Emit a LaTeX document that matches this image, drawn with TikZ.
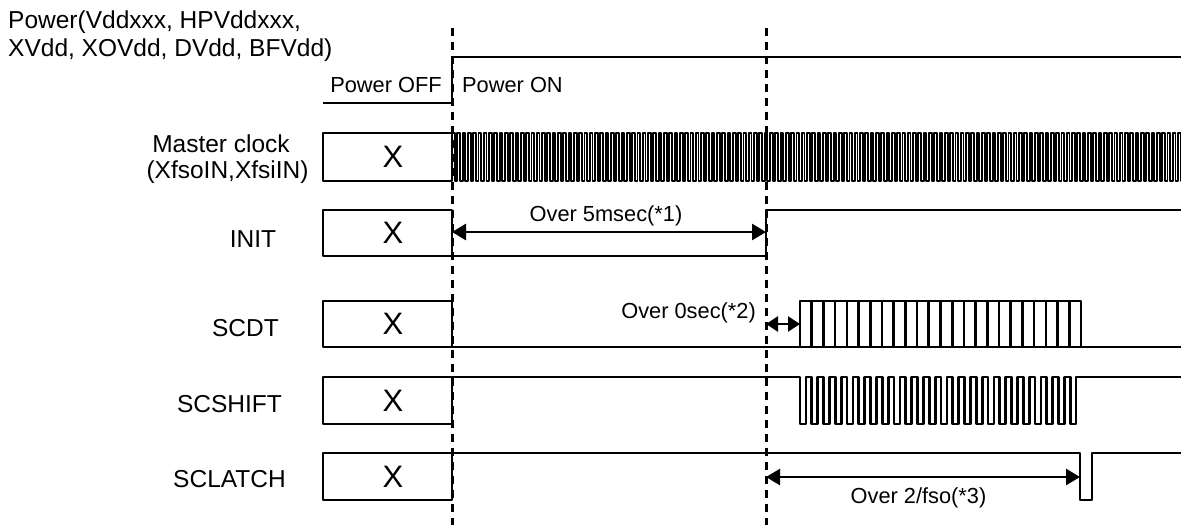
\documentclass[tikz,border=0pt]{standalone}
\usepackage{fontspec}
\setmainfont{Liberation Sans}
\usetikzlibrary{arrows.meta}
\begin{document}
\begin{tikzpicture}[x=1pt,y=-1pt,
  sig/.style={line width=2.6pt, line join=round},
  clk/.style={line width=1.9pt, line join=round},
  dashline/.style={line width=3pt, dash pattern=on 8pt off 6pt},
  dim/.style={line width=2.6pt, {Triangle[length=14pt,width=16pt]}-{Triangle[length=14pt,width=16pt]}},
  smalldim/.style={line width=2.6pt, {Triangle[length=12pt,width=15pt]}-{Triangle[length=12pt,width=15pt]}},
  namelbl/.style={inner sep=0pt, font=\fontsize{24.5}{29}\selectfont},
  notelbl/.style={inner sep=0pt, font=\fontsize{21.8}{26}\selectfont},
  xlbl/.style={inner sep=0pt, font=\fontsize{31}{35}\selectfont}]
\useasboundingbox (0,0) rectangle (1181,525);

% time markers
\coordinate (d1top) at (452,28);
\coordinate (d1bot) at (452,525);
\coordinate (d2top) at (766,28);
\coordinate (d2bot) at (766,525);
\draw[dashline] (d1top) -- (d1bot);
\draw[dashline] (d2top) -- (d2bot);

% titles and signal names
\node[namelbl, anchor=base west] (title1) at (8,28) {Power(Vddxxx, HPVddxxx,};
\node[namelbl, anchor=base west] (title2) at (8,56) {XVdd, XOVdd, DVdd, BFVdd)};
\node[notelbl, anchor=base] (poff) at (386,92) {Power OFF};
\node[notelbl, anchor=base west] (pon) at (462,92) {Power ON};
\node[namelbl, anchor=base] (mclk1) at (221,152) {Master clock};
\node[namelbl, anchor=base] (mclk2) at (227.5,178) {(XfsoIN,XfsiIN)};
\node[namelbl, anchor=base] (ninit) at (253,247) {INIT};
\node[namelbl, anchor=base] (nscdt) at (245.5,336) {SCDT};
\node[namelbl, anchor=base] (nshift) at (229.5,412) {SCSHIFT};
\node[namelbl, anchor=base] (nlatch) at (229.5,487) {SCLATCH};

% power
\draw[sig] (323,103) -- (452,103) -- (452,57) -- (1181,57);

% X boxes
\draw[sig] (323,133) rectangle (452,181);
\draw[sig] (323,210) rectangle (452,256);
\draw[sig] (323,301) rectangle (452,347);
\draw[sig] (323,377) rectangle (452,424);
\draw[sig] (323,453) rectangle (452,500);
\node[xlbl] (x1) at (393,157) {X};
\node[xlbl] (x2) at (393,233) {X};
\node[xlbl] (x3) at (393,324) {X};
\node[xlbl] (x4) at (393,400.5) {X};
\node[xlbl] (x5) at (393,476.5) {X};

% master clock
\begin{scope}
\clip (452,100) rectangle (1181,200);
\draw[clk] (452,181) \foreach \i in {1,...,138} { -- ++(0,-48) -- ++(2.65,0) -- ++(0,48) -- ++(2.65,0) };
\end{scope}

% INIT
\draw[sig] (452,256) -- (766,256) -- (766,210) -- (1181,210);
\coordinate (ia) at (452,232);
\coordinate (ib) at (766,232);
\draw[dim] (ia) -- (ib);
\node[notelbl, anchor=base] (n1) at (606,221) {Over 5msec(*1)};

% SCDT
\draw[sig] (452,347) -- (1181,347);
\draw[sig] (800,347) -- (800,301) -- (1081,301) -- (1081,347);
\foreach \i in {1,...,23} \draw[sig] ({800+\i*11.708},301) -- ++(0,46);
\coordinate (sa) at (766,324);
\coordinate (sb) at (800,324);
\draw[smalldim] (sa) -- (sb);
\node[notelbl, anchor=base east] (n2) at (756,318) {Over 0sec(*2)};

% SCSHIFT
\draw[sig] (452,377) -- (800,377) -- (800,424)
  \foreach \k in {0,...,22} { -- ({806+\k*11.75},424) -- ++(0,-47) -- ++(5.7,0) -- ++(0,47) }
  -- (1076,424) -- (1076,377) -- (1181,377);

% SCLATCH
\draw[sig] (452,453) -- (1080,453) -- (1080,500) -- (1092,500) -- (1092,453) -- (1181,453);
\coordinate (la) at (766,477);
\coordinate (lb) at (1080,477);
\draw[dim] (la) -- (lb);
\node[notelbl, anchor=base] (n3) at (918.5,503) {Over 2/fso(*3)};
\end{tikzpicture}
\end{document}
